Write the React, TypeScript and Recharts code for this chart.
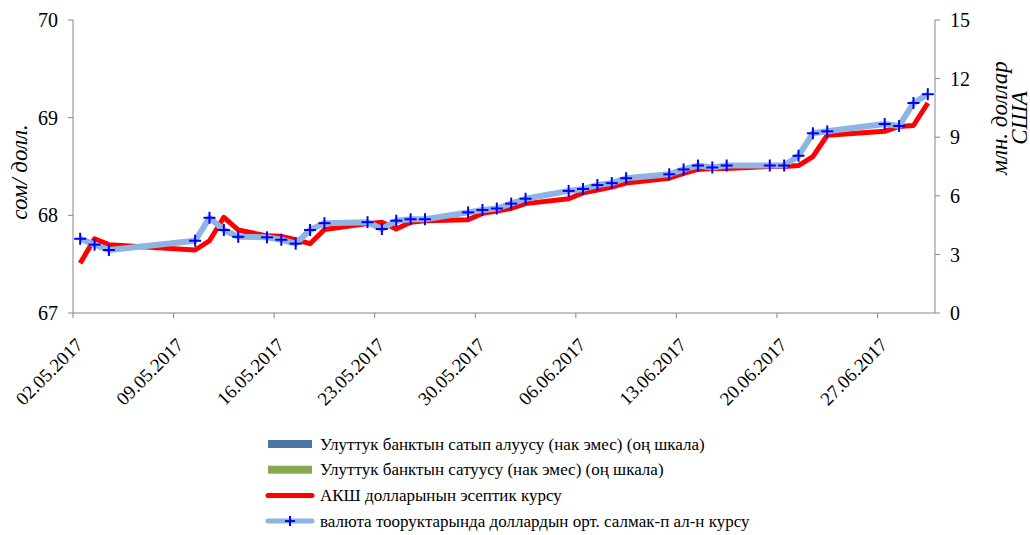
import React from 'react';
import { ComposedChart, Line, Bar, XAxis, YAxis, Legend } from 'recharts';

// trading days (dd.mm.yyyy)
const dates = [
  '02.05.2017', '03.05.2017', '04.05.2017', '10.05.2017', '11.05.2017', '12.05.2017',
  '13.05.2017', '15.05.2017', '16.05.2017', '17.05.2017', '18.05.2017', '19.05.2017',
  '22.05.2017', '23.05.2017', '24.05.2017', '25.05.2017', '26.05.2017', '29.05.2017',
  '30.05.2017', '31.05.2017', '01.06.2017', '02.06.2017', '05.06.2017', '06.06.2017',
  '07.06.2017', '08.06.2017', '09.06.2017', '12.06.2017', '13.06.2017', '14.06.2017',
  '15.06.2017', '16.06.2017', '19.06.2017', '20.06.2017', '21.06.2017', '22.06.2017',
  '23.06.2017', '27.06.2017', '28.06.2017', '29.06.2017', '30.06.2017',
];

// АКШ долларынын эсептик курсу (left scale)
const officialRate = [
  67.51, 67.76, 67.70, 67.645, 67.74, 67.98,
  67.85, 67.79, 67.785, 67.75, 67.71, 67.855,
  67.915, 67.93, 67.86, 67.93, 67.945, 67.955,
  68.02, 68.045, 68.07, 68.12, 68.17, 68.23,
  68.26, 68.29, 68.33, 68.38, 68.43, 68.47,
  68.48, 68.48, 68.50, 68.50, 68.51, 68.60,
  68.82, 68.86, 68.91, 68.92, 69.15,
];

// валюта тооруктарында орт. салмактанып алынган курс (left scale)
const marketRate = [
  67.76, 67.70, 67.645, 67.74, 67.975, 67.85,
  67.78, 67.775, 67.75, 67.71, 67.85, 67.92,
  67.93, 67.86, 67.945, 67.96, 67.96, 68.03,
  68.055, 68.07, 68.12, 68.17, 68.25, 68.27,
  68.31, 68.33, 68.38, 68.42, 68.47, 68.51,
  68.49, 68.51, 68.51, 68.51, 68.61, 68.84,
  68.86, 68.935, 68.915, 69.15, 69.24,
];

// НБКР interventions, mln USD (right scale) - none in this period
const nbkrBuy = dates.map(() => 0);
const nbkrSell = dates.map(() => 0);

const tickLabels = [
  '02.05.2017', '09.05.2017', '16.05.2017', '23.05.2017', '30.05.2017',
  '06.06.2017', '13.06.2017', '20.06.2017', '27.06.2017',
];

const leftTicks = [67, 68, 69, 70];
const rightTicks = [0, 3, 6, 9, 12, 15];

const FONT = '"Liberation Serif", "Times New Roman", serif';
const AXIS = '#868686';

const dayIndex = (s: string) => {
  const [d, m, y] = s.split('.').map(Number);
  const base = Date.UTC(2017, 4, 2);
  return Math.round((Date.UTC(y, m - 1, d) - base) / 86400000);
};

const chartData = dates.map((d, i) => ({
  x: dayIndex(d) + 0.5,
  official: officialRate[i],
  market: marketRate[i],
  buy: nbkrBuy[i],
  sell: nbkrSell[i],
}));

const xTicks = tickLabels.map(dayIndex);

const PlusDot = (props: any) => {
  const { cx, cy, index } = props;
  if (cx == null || cy == null) return null;
  return (
    <g key={`plus-${index}`}>
      <line x1={cx - 6} x2={cx + 6} y1={cy} y2={cy} stroke="#0000FF" strokeWidth={2} />
      <line x1={cx} x2={cx} y1={cy - 6} y2={cy + 6} stroke="#0000FF" strokeWidth={2} />
    </g>
  );
};

const DateTick = (props: any) => {
  const { x, y, payload } = props;
  const label = tickLabels[xTicks.indexOf(payload.value)] ?? '';
  const ax = x + 11;
  const ay = y + 26;
  return (
    <text
      x={ax}
      y={ay}
      textAnchor="end"
      fontFamily={FONT}
      fontSize={19}
      fill="#000"
      transform={`rotate(-45 ${ax} ${ay})`}
    >
      {label}
    </text>
  );
};

const LeftTitle = () => (
  <text
    x={19}
    y={172}
    textAnchor="middle"
    dominantBaseline="central"
    fontFamily={FONT}
    fontStyle="italic"
    fontSize={23}
    transform="rotate(-90 19 172)"
  >
    сом/ долл.
  </text>
);

const RightTitle = () => (
  <g fontFamily={FONT} fontStyle="italic" fontSize={23}>
    <text x={999} y={118} textAnchor="middle" dominantBaseline="central" transform="rotate(-90 999 118)">
      млн. доллар
    </text>
    <text x={1019} y={118} textAnchor="middle" dominantBaseline="central" transform="rotate(-90 1019 118)">
      США
    </text>
  </g>
);

const legendRows = [
  { kind: 'bar', color: '#4A76A8', text: 'Улуттук банктын сатып алуусу (нак эмес) (оң шкала)' },
  { kind: 'bar', color: '#8AA94E', text: 'Улуттук банктын сатуусу (нак эмес) (оң шкала)' },
  { kind: 'red', color: '#FF0000', text: 'АКШ долларынын эсептик курсу' },
  { kind: 'blue', color: '#8DB4E2', text: 'валюта тооруктарында доллардын орт. салмак-п ал-н курсу' },
];

const renderLegend = () => (
  <svg width={600} height={104}>
    {legendRows.map((r, i) => {
      const cy = 14 + i * 25.7;
      return (
        <g key={r.text}>
          {r.kind === 'bar' && <rect x={6} y={cy - 4} width={44} height={8} fill={r.color} />}
          {r.kind === 'red' && (
            <line x1={6} x2={50} y1={cy} y2={cy} stroke={r.color} strokeWidth={5} strokeLinecap="round" />
          )}
          {r.kind === 'blue' && (
            <g>
              <line x1={6} x2={50} y1={cy} y2={cy} stroke={r.color} strokeWidth={5} strokeLinecap="round" />
              <line x1={23} x2={33} y1={cy} y2={cy} stroke="#0000FF" strokeWidth={2} />
              <line x1={28} x2={28} y1={cy - 5} y2={cy + 5} stroke="#0000FF" strokeWidth={2} />
            </g>
          )}
          <text x={58} y={cy} dominantBaseline="central" fontFamily={FONT} fontSize={17} fill="#000">
            {r.text}
          </text>
        </g>
      );
    })}
  </svg>
);

export default function App() {
  return (
    <div style={{ position: 'absolute', left: 0, top: 0, width: 1030, height: 535, background: '#fff' }}>
      <ComposedChart
        width={1030}
        height={535}
        data={chartData}
        margin={{ top: 20, right: 0, left: 0, bottom: 0 }}
      >
        <XAxis
          dataKey="x"
          type="number"
          domain={[0, 60]}
          ticks={xTicks}
          interval={0}
          height={222}
          stroke={AXIS}
          tickLine={{ stroke: AXIS }}
          tickSize={5}
          tick={<DateTick />}
        />
        <YAxis
          yAxisId="left"
          domain={[67, 70]}
          ticks={leftTicks}
          width={73}
          stroke={AXIS}
          tickLine={{ stroke: AXIS }}
          tickSize={5}
          tickMargin={10}
          tick={{ fill: '#000', fontSize: 20, fontFamily: FONT }}
          label={<LeftTitle />}
        />
        <YAxis
          yAxisId="right"
          orientation="right"
          domain={[0, 15]}
          ticks={rightTicks}
          width={95}
          stroke={AXIS}
          tickLine={{ stroke: AXIS }}
          tickSize={5}
          tickMargin={10}
          tick={{ fill: '#000', fontSize: 20, fontFamily: FONT }}
          label={<RightTitle />}
        />
        <Legend
          layout="vertical"
          align="center"
          verticalAlign="middle"
          wrapperStyle={{ left: 262, top: 430, width: 600, height: 104 }}
          content={renderLegend}
        />
        <Bar yAxisId="right" dataKey="buy" fill="#4A76A8" barSize={8} isAnimationActive={false} />
        <Bar yAxisId="right" dataKey="sell" fill="#8AA94E" barSize={8} isAnimationActive={false} />
        <Line
          yAxisId="left"
          dataKey="official"
          type="linear"
          stroke="#FF0000"
          strokeWidth={5}
          strokeLinejoin="round"
          dot={false}
          activeDot={false}
          isAnimationActive={false}
        />
        <Line
          yAxisId="left"
          dataKey="market"
          type="linear"
          stroke="#8DB4E2"
          strokeWidth={6}
          strokeLinejoin="round"
          dot={<PlusDot />}
          activeDot={false}
          isAnimationActive={false}
        />
      </ComposedChart>
    </div>
  );
}
